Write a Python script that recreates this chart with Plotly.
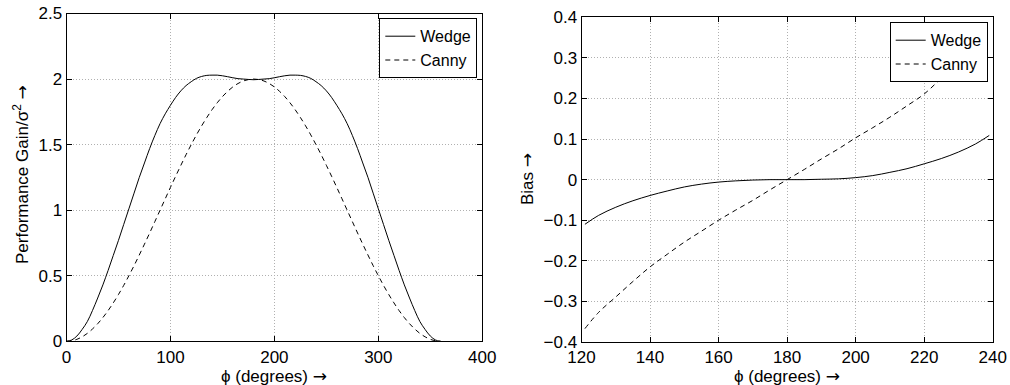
import plotly.graph_objects as go

# ---- Left panel data ----
phi_left = [0, 5, 10, 15, 20, 25, 30, 35, 40, 45, 50, 55, 60, 65, 70, 75, 80, 85, 90, 95, 100, 105, 110, 115, 120,
            125, 130, 135, 140, 145, 150, 155, 160, 165, 170, 175, 180,
            185, 190, 195, 200, 205, 210, 215, 220, 225, 230, 235, 240, 245, 250, 255, 260, 265, 270,
            275, 280, 285, 290, 295, 300, 305, 310, 315, 320, 325, 330, 335, 340, 345, 350, 355, 360]
wedge_gain = [0.0, 0.01, 0.04, 0.09, 0.15, 0.235, 0.33, 0.43, 0.54, 0.655, 0.77, 0.89, 1.01, 1.13, 1.25, 1.36, 1.47, 1.57, 1.66, 1.735, 1.80, 1.86, 1.91, 1.95, 1.98,
              2.005, 2.02, 2.028, 2.03, 2.03, 2.025, 2.018, 2.01, 2.003, 2.0, 1.997, 1.995,
              1.997, 2.0, 2.003, 2.01, 2.018, 2.025, 2.03, 2.03, 2.028, 2.02, 2.005, 1.98, 1.95, 1.91, 1.86, 1.80, 1.735, 1.66,
              1.57, 1.47, 1.36, 1.25, 1.13, 1.01, 0.89, 0.77, 0.655, 0.54, 0.43, 0.33, 0.235, 0.15, 0.09, 0.04, 0.01, 0.0]
canny_gain = [0.0, 0.004, 0.015, 0.034, 0.06, 0.094, 0.134, 0.181, 0.234, 0.293, 0.357, 0.426, 0.5, 0.577, 0.658, 0.741, 0.826, 0.913, 1.0, 1.087, 1.174, 1.259, 1.342, 1.423, 1.5,
              1.574, 1.643, 1.707, 1.766, 1.819, 1.866, 1.906, 1.94, 1.966, 1.985, 1.996, 2.0,
              1.996, 1.985, 1.966, 1.94, 1.906, 1.866, 1.819, 1.766, 1.707, 1.643, 1.574, 1.5, 1.423, 1.342, 1.259, 1.174, 1.087, 1.0,
              0.913, 0.826, 0.741, 0.658, 0.577, 0.5, 0.426, 0.357, 0.293, 0.234, 0.181, 0.134, 0.094, 0.06, 0.034, 0.015, 0.004, 0.0]

# ---- Right panel data ----
phi_right = [121, 125, 130, 135, 140, 145, 150, 155, 160, 165, 170, 175, 180, 185, 190, 195, 200, 205, 210, 215, 220, 225, 230, 235, 239]
wedge_bias = [-0.11, -0.088, -0.068, -0.052, -0.039, -0.028, -0.018, -0.011, -0.006, -0.003, -0.001, 0.0, 0.0,
              0.0, 0.001, 0.002, 0.005, 0.010, 0.018, 0.027, 0.039, 0.052, 0.068, 0.088, 0.109]
canny_bias = [-0.367, -0.327, -0.289, -0.251, -0.215, -0.184, -0.154, -0.127, -0.10, -0.075, -0.051, -0.025, 0.0,
              0.025, 0.051, 0.076, 0.103, 0.128, 0.154, 0.182, 0.211, 0.25, 0.289, 0.327, 0.36]

left_xticks = [0, 100, 200, 300, 400]
left_yticks = [0, 0.5, 1, 1.5, 2, 2.5]
left_yticklabels = ["0", "0.5", "1", "1.5", "2", "2.5"]
right_xticks = [120, 140, 160, 180, 200, 220, 240]
right_yticks = [-0.4, -0.3, -0.2, -0.1, 0, 0.1, 0.2, 0.3, 0.4]
right_yticklabels = ["\u22120.4", "\u22120.3", "\u22120.2", "\u22120.1", "0", "0.1", "0.2", "0.3", "0.4"]

ARROW = "<span style='font-family:DejaVu Sans'>\u2192</span>"
x_title = "\u03d5 (degrees) " + ARROW
left_y_title = "Performance Gain/\u03c3<sup>2</sup> " + ARROW
right_y_title = "Bias " + ARROW

FONT = "Liberation Sans, Arial, Helvetica, sans-serif"
FS = 17
LFS = 16

fig = go.Figure()
fig.add_trace(go.Scatter(x=phi_left, y=wedge_gain, mode="lines", name="Wedge",
                         line=dict(color="black", width=1, shape="spline"), legend="legend", xaxis="x", yaxis="y"))
fig.add_trace(go.Scatter(x=phi_left, y=canny_gain, mode="lines", name="Canny",
                         line=dict(color="black", width=1, dash="5px,4px", shape="spline"), legend="legend", xaxis="x", yaxis="y"))
fig.add_trace(go.Scatter(x=phi_right, y=wedge_bias, mode="lines", name="Wedge",
                         line=dict(color="black", width=1, shape="spline"), legend="legend2", xaxis="x2", yaxis="y2"))
fig.add_trace(go.Scatter(x=phi_right, y=canny_bias, mode="lines", name="Canny",
                         line=dict(color="black", width=1, dash="5px,4px", shape="spline"), legend="legend2", xaxis="x2", yaxis="y2"))

axis_common = dict(showline=True, linecolor="black", linewidth=1, mirror="allticks",
                   ticks="inside", ticklen=5, tickcolor="black", tickwidth=1,
                   showgrid=True, gridcolor="#b0b0b0", griddash="1px,2px", gridwidth=1,
                   zeroline=False, automargin=False,
                   tickfont=dict(family=FONT, size=FS, color="black"))

W, H = 1010, 385
L_X0, L_X1, L_TOP, L_BOT = 66.5, 482.3, 13.5, 341.3
R_X0, R_X1, R_TOP, R_BOT = 581.5, 992.7, 17.3, 342.0

def px(x0, x1):
    return [x0 / W, x1 / W]
def py(top, bottom):
    return [(H - bottom) / H, (H - top) / H]

title_font = dict(family=FONT, size=FS, color="black")
annotations = [
    dict(text=x_title, xref="paper", yref="paper", x=(L_X0 + L_X1) / 2 / W, y=(H - 375.5) / H,
         xanchor="center", yanchor="middle", showarrow=False, font=title_font),
    dict(text=x_title, xref="paper", yref="paper", x=(R_X0 + R_X1) / 2 / W, y=(H - 375.5) / H,
         xanchor="center", yanchor="middle", showarrow=False, font=title_font),
    dict(text=left_y_title, xref="paper", yref="paper", x=21 / W, y=(H - 175) / H, textangle=-90,
         xanchor="center", yanchor="middle", showarrow=False, font=title_font),
    dict(text=right_y_title, xref="paper", yref="paper", x=526.5 / W, y=(H - 179.5) / H, textangle=-90,
         xanchor="center", yanchor="middle", showarrow=False, font=title_font),
]

fig.update_layout(
    template="none",
    width=W, height=H,
    margin=dict(l=0, r=0, t=0, b=0, autoexpand=False),
    paper_bgcolor="white", plot_bgcolor="white",
    font=dict(family=FONT, size=FS, color="black"),
    xaxis=dict(domain=px(L_X0, L_X1), range=[0, 400], tickvals=left_xticks, anchor="y", **axis_common),
    yaxis=dict(domain=py(L_TOP, L_BOT), range=[0, 2.5], tickvals=left_yticks, ticktext=left_yticklabels,
               anchor="x", **axis_common),
    xaxis2=dict(domain=px(R_X0, R_X1), range=[120, 240], tickvals=right_xticks, anchor="y2", **axis_common),
    yaxis2=dict(domain=py(R_TOP, R_BOT), range=[-0.4, 0.4], tickvals=right_yticks, ticktext=right_yticklabels,
                anchor="x2", **axis_common),
    annotations=annotations,
    legend=dict(x=477.3 / W, y=(H - 18.3) / H, xanchor="right", yanchor="top",
                bgcolor="white", bordercolor="black", borderwidth=1,
                font=dict(family=FONT, size=LFS), tracegroupgap=0, itemwidth=30),
    legend2=dict(x=987.7 / W, y=(H - 22.3) / H, xanchor="right", yanchor="top",
                 bgcolor="white", bordercolor="black", borderwidth=1,
                 font=dict(family=FONT, size=LFS), tracegroupgap=0, itemwidth=30),
    showlegend=True,
)

fig.write_html("out.html", config={"displayModeBar": False},
               post_script="document.body.style.margin='0px';document.body.style.overflow='hidden';")
